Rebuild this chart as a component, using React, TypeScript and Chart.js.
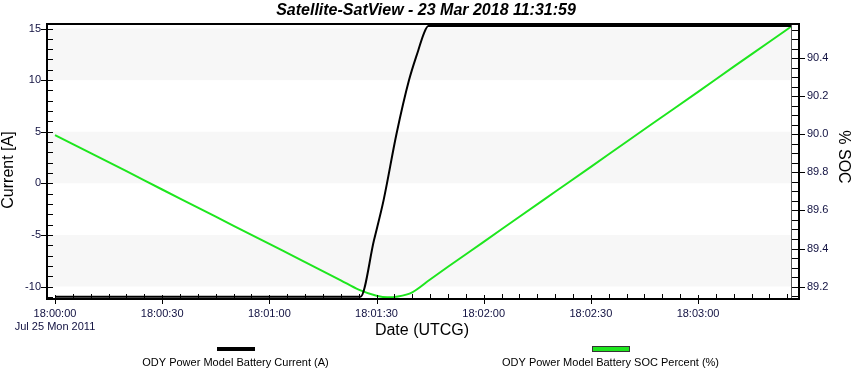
import React, { useEffect, useRef } from 'react';
import { Chart, registerables } from 'chart.js';

Chart.register(...registerables);

const titleText = 'Satellite-SatView - 23 Mar 2018 11:31:59';
const xAxisTitle = 'Date (UTCG)';
const leftAxisTitle = 'Current [A]';
const rightAxisTitle = '% SOC';
const dateLine = 'Jul 25 Mon 2011';

const currentLabel = 'ODY Power Model Battery Current (A)';
const socLabel = 'ODY Power Model Battery SOC Percent (%)';

// seconds after 18:00:00 UTCG
const currentTimes = [0, 85.5, 89.3, 92.0, 95.6, 99.1, 101.7, 103.3, 104.5, 206.3];
const currentValues = [-11.0, -11.0, -5.5, -1.6, 4.8, 10.0, 12.9, 14.56, 15.24, 15.24];

const socTimes = [0, 10, 20, 30, 40, 50, 60, 70, 80, 85, 90, 93, 96, 100, 105, 110, 120, 130, 140, 150, 160, 170, 180, 190, 200, 206];
const socValues = [89.996, 89.901, 89.806, 89.71, 89.615, 89.519, 89.424, 89.329, 89.233, 89.184, 89.152, 89.1435, 89.148, 89.17, 89.237, 89.304, 89.435, 89.567, 89.698, 89.829, 89.961, 90.092, 90.223, 90.355, 90.486, 90.565];

const xTickValues = [0, 30, 60, 90, 120, 150, 180];
const xTickLabels = ['18:00:00', '18:00:30', '18:01:00', '18:01:30', '18:02:00', '18:02:30', '18:03:00'];
const currentTickValues = [-10, -5, 0, 5, 10, 15];
const socTickValues = [89.2, 89.4, 89.6, 89.8, 90.0, 90.2, 90.4];
const bandRanges = [[10, 15], [0, 5], [-10, -5]];

const X_MIN = -2.24;
const X_MAX = 206.3;
const CUR_MIN = -11.11;
const CUR_MAX = 15.34;
const SOC_MIN = 89.14;
const SOC_MAX = 90.574;

const X_MINOR_STEP = 5;
const CUR_MINOR_STEP = 1;
const SOC_MINOR_STEP = 0.05;

const FONT = '"Liberation Sans", Arial, sans-serif';
const TICK_COLOR = '#101040';
const GREEN = '#1ee61e';

const decorPlugin = {
  id: 'decor',
  beforeDatasetsDraw(chart: any) {
    const { ctx, chartArea: a, scales } = chart;
    const y = scales.y;
    ctx.save();
    ctx.fillStyle = '#f7f7f7';
    for (const [lo, hi] of bandRanges) {
      const t = Math.max(a.top, y.getPixelForValue(hi));
      const b = Math.min(a.bottom, y.getPixelForValue(lo));
      ctx.fillRect(a.left, t, a.right - a.left, b - t);
    }
    ctx.restore();
  },
  afterDraw(chart: any) {
    const { ctx, chartArea: a, scales } = chart;
    const x = scales.x, y = scales.y, y1 = scales.y1;
    ctx.save();
    // frame and axis lines
    ctx.fillStyle = '#000';
    ctx.fillRect(a.left - 1, a.top - 2, a.right + 9 - a.left, 2);
    ctx.fillRect(a.left - 1, a.top - 2, 2, a.bottom - a.top + 4);
    ctx.fillRect(a.left - 1, a.bottom, a.right + 9 - a.left, 2);
    ctx.fillRect(a.right + 6, a.top - 2, 2, a.bottom - a.top + 4);
    ctx.fillStyle = '#555';
    ctx.fillRect(a.right - 1, a.top, 1, a.bottom - a.top);

    ctx.strokeStyle = '#000';
    ctx.lineWidth = 1;
    const hLine = (py: number, x0: number, x1: number) => {
      const yy = Math.round(py) + 0.5;
      ctx.beginPath(); ctx.moveTo(x0, yy); ctx.lineTo(x1, yy); ctx.stroke();
    };
    const vLine = (px: number, y0: number, y1v: number) => {
      const xx = Math.round(px) + 0.5;
      ctx.beginPath(); ctx.moveTo(xx, y0); ctx.lineTo(xx, y1v); ctx.stroke();
    };
    // left axis ticks
    for (let v = Math.ceil(CUR_MIN); v <= CUR_MAX; v += CUR_MINOR_STEP) {
      if (currentTickValues.includes(v)) continue;
      hLine(y.getPixelForValue(v), a.left, a.left + 6);
    }
    for (const v of currentTickValues) hLine(y.getPixelForValue(v), a.left - 6, a.left + 6);
    // x axis ticks
    for (let v = 0; v <= X_MAX; v += X_MINOR_STEP) {
      if (xTickValues.includes(v)) continue;
      vLine(x.getPixelForValue(v), a.bottom - 4, a.bottom + 1);
    }
    for (const v of xTickValues) vLine(x.getPixelForValue(v), a.bottom - 3, a.bottom + 6);
    // right axis ticks
    for (let i = Math.ceil(SOC_MIN / SOC_MINOR_STEP); i * SOC_MINOR_STEP <= SOC_MAX; i++) {
      const v = i * SOC_MINOR_STEP;
      if (socTickValues.some((t) => Math.abs(t - v) < 1e-6)) continue;
      hLine(y1.getPixelForValue(v), a.right, a.right + 7);
    }
    for (const v of socTickValues) hLine(y1.getPixelForValue(v), a.right, a.right + 13);

    // axis titles
    ctx.fillStyle = '#000';
    ctx.font = `16px ${FONT}`;
    ctx.textAlign = 'center';
    ctx.textBaseline = 'middle';
    ctx.fillText(xAxisTitle, 422, 331);
    ctx.save();
    ctx.translate(9, 170);
    ctx.rotate(-Math.PI / 2);
    ctx.fillText(leftAxisTitle, 0, 0);
    ctx.restore();
    ctx.save();
    ctx.translate(843, 157);
    ctx.rotate(Math.PI / 2);
    ctx.fillText(rightAxisTitle, 0, 0);
    ctx.restore();

    // legend
    const ds = chart.data.datasets;
    ctx.font = `11px ${FONT}`;
    ctx.fillStyle = ds[0].borderColor;
    ctx.fillRect(217, 347, 38, 4);
    ctx.fillStyle = '#000';
    ctx.fillText(ds[0].label, 235.5, 363);
    ctx.fillStyle = ds[1].borderColor;
    ctx.fillRect(592, 346, 38, 5);
    ctx.strokeStyle = '#333';
    ctx.strokeRect(592.5, 346.5, 37, 5);
    ctx.fillStyle = '#000';
    ctx.fillText(ds[1].label, 610.5, 363);
    ctx.restore();
  },
};

export default function App() {
  const ref = useRef<HTMLCanvasElement | null>(null);
  useEffect(() => {
    if (!ref.current) return;
    const chart = new Chart(ref.current, {
      type: 'line',
      data: {
        datasets: [
          {
            label: currentLabel,
            data: currentTimes.map((t, i) => ({ x: t, y: currentValues[i] })),
            borderColor: '#000000',
            backgroundColor: '#000000',
            borderWidth: 2,
            pointRadius: 0,
            cubicInterpolationMode: 'monotone',
            yAxisID: 'y',
          },
          {
            label: socLabel,
            data: socTimes.map((t, i) => ({ x: t, y: socValues[i] })),
            borderColor: GREEN,
            backgroundColor: GREEN,
            borderWidth: 2,
            pointRadius: 0,
            cubicInterpolationMode: 'monotone',
            yAxisID: 'y1',
          },
        ],
      },
      options: {
        animation: false,
        responsive: false,
        devicePixelRatio: 1,
        layout: { padding: 0 },
        plugins: {
          legend: { display: false },
          tooltip: { enabled: false },
          title: {
            display: true,
            text: titleText,
            color: '#000',
            font: { family: FONT, size: 16, weight: 'bold', style: 'italic', lineHeight: 1.2 },
            padding: { top: 1, bottom: 4.8 },
          },
        },
        scales: {
          x: {
            type: 'linear',
            min: X_MIN,
            max: X_MAX,
            grid: { display: false, drawTicks: false },
            border: { display: false },
            afterBuildTicks: (s: any) => { s.ticks = xTickValues.map((v) => ({ value: v })); },
            afterFit: (s: any) => { s.height = 72; },
            ticks: {
              autoSkip: false,
              maxRotation: 0,
              minRotation: 0,
              padding: 9.4,
              color: TICK_COLOR,
              font: { family: FONT, size: 11 },
              callback: (v: any, i: number) => (i === 0 ? [xTickLabels[i], dateLine] : xTickLabels[i]),
            },
          },
          y: {
            type: 'linear',
            position: 'left',
            min: CUR_MIN,
            max: CUR_MAX,
            grid: { display: false, drawTicks: false },
            border: { display: false },
            afterBuildTicks: (s: any) => { s.ticks = currentTickValues.map((v) => ({ value: v })); },
            afterFit: (s: any) => { s.width = 47; },
            ticks: {
              padding: 6,
              color: TICK_COLOR,
              font: { family: FONT, size: 11 },
              callback: (v: any) => String(v),
            },
          },
          y1: {
            type: 'linear',
            position: 'right',
            min: SOC_MIN,
            max: SOC_MAX,
            grid: { display: false, drawTicks: false },
            border: { display: false },
            afterBuildTicks: (s: any) => { s.ticks = socTickValues.map((v) => ({ value: v })); },
            afterFit: (s: any) => { s.width = 60; },
            ticks: {
              padding: 15,
              color: TICK_COLOR,
              font: { family: FONT, size: 11 },
              callback: (v: any) => Number(v).toFixed(1),
            },
          },
        },
      },
      plugins: [decorPlugin],
    } as any);
    return () => chart.destroy();
  }, []);
  return (
    <div style={{ position: 'absolute', left: 0, top: 0, width: 852, height: 370, background: '#fff' }}>
      <canvas ref={ref} width={852} height={370} style={{ display: 'block' }} />
    </div>
  );
}
